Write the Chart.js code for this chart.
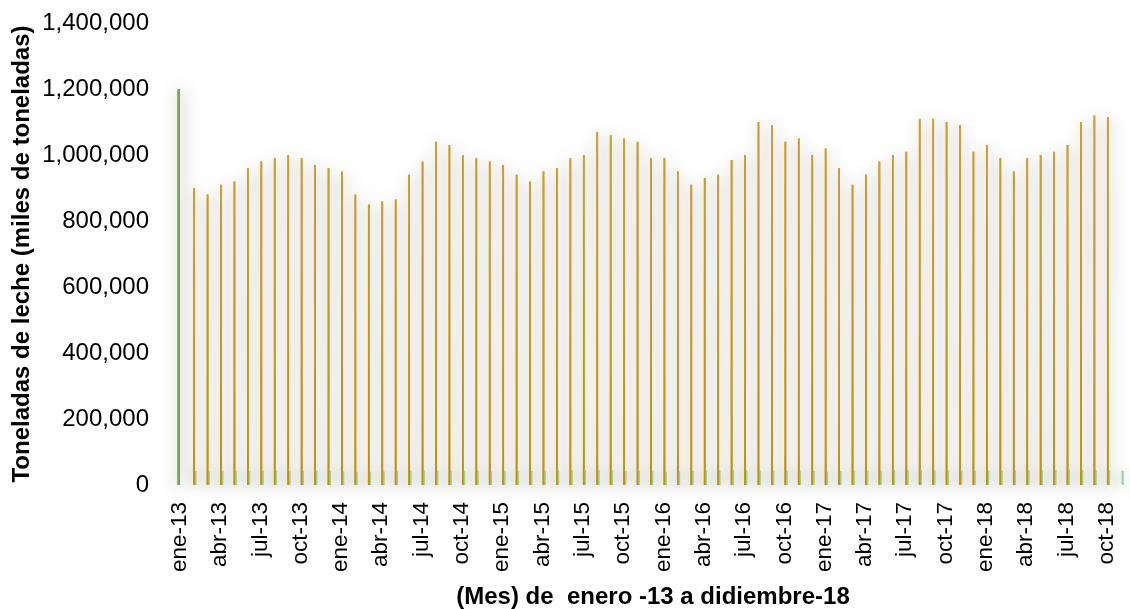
<!DOCTYPE html>
<html lang="es">
<head>
    <meta charset="UTF-8">
    <title>Producción de leche</title>
    <script src="https://cdn.jsdelivr.net/npm/chart.js"></script>
    <style>
        body { margin: 0; background: #ffffff; overflow: hidden; }
        .contenedor { width: 1130px; height: 609px; }
    </style>
</head>
<body>
    <div class="contenedor">
        <canvas id="grafica"></canvas>
    </div>
    <script>
        // meses del periodo, de ene-13 a nov-18
        var meses = ["ene", "feb", "mar", "abr", "may", "jun", "jul", "ago", "sep", "oct", "nov", "dic"];
        var anios = ["13", "14", "15", "16", "17", "18"];
        var categorias = anios.flatMap(a => meses.map(m => m + "-" + a)).slice(0, 71);

        // toneladas por mes (serie naranja)
        var produccion = [
            null, 900000, 880000, 910000, 920000, 960000, 980000, 990000, 1000000, 990000, 970000, 960000,
            950000, 880000, 850000, 860000, 865000, 940000, 980000, 1040000, 1030000, 1000000, 990000, 980000,
            970000, 940000, 920000, 950000, 960000, 990000, 1000000, 1070000, 1060000, 1050000, 1040000, 990000,
            990000, 950000, 910000, 930000, 940000, 985000, 1000000, 1100000, 1090000, 1040000, 1050000, 1000000,
            1020000, 960000, 910000, 940000, 980000, 1000000, 1010000, 1110000, 1110000, 1100000, 1090000, 1010000,
            1030000, 990000, 950000, 990000, 1000000, 1010000, 1030000, 1100000, 1120000, 1115000, null
        ];

        // serie verde claro
        var serieVerde = [
            null, 42000, 41000, 43000, 42000, 42000, 43000, 42000, 41000, 42000, 43000, 42000,
            41000, 40000, 40000, 41000, 42000, 43000, 44000, 43000, 42000, 42000, 42000, 41000,
            41000, 42000, 42000, 43000, 43000, 44000, 44000, 44000, 43000, 42000, 42000, 41000,
            40000, 41000, 42000, 43000, 43000, 45000, 44000, 43000, 43000, 42000, 43000, 42000,
            41000, 42000, 42000, 43000, 43000, 45000, 45000, 44000, 44000, 43000, 43000, 42000,
            42000, 43000, 43000, 44000, 44000, 45000, 46000, 45000, 44000, 43000, 43000
        ];

        // barra verde del primer mes
        var serieInicial = [1200000];

        var ticksY = [0, 200000, 400000, 600000, 800000, 1000000, 1200000, 1400000];

        var fuente = "'Liberation Sans', Arial, sans-serif";

        function degradadoNaranja(context) {
            var chart = context.chart;
            var area = chart.chartArea;
            if (!area) return "#cc9915";
            var g = chart.ctx.createLinearGradient(0, area.top, 0, area.bottom);
            g.addColorStop(0, "#d6a032");
            g.addColorStop(1, "#c79200");
            return g;
        }

        // sombra difusa: se pintan primero todas las sombras y luego las barras encima
        var sombra = {
            id: "sombra",
            beforeDatasetsDraw(chart) {
                var c = chart.ctx;
                c.save();
                c.shadowColor = "rgba(0, 0, 0, 0.5)";
                c.shadowBlur = 16;
                c.shadowOffsetX = 2;
                c.shadowOffsetY = 2;
                chart.getSortedVisibleDatasetMetas().forEach(function (meta) {
                    meta.data.forEach(function (barra) {
                        if (!isNaN(barra.y)) barra.draw(c);
                    });
                });
                c.restore();
            }
        };

        var ctx = document.getElementById("grafica").getContext("2d");
        var grafica = new Chart(ctx, {
            type: "bar",
            data: {
                labels: categorias,
                datasets: [
                    {
                        label: "Producción",
                        data: produccion,
                        backgroundColor: degradadoNaranja,
                        categoryPercentage: 0.4,
                        barPercentage: 1.3
                    },
                    {
                        label: "Serie verde",
                        data: serieVerde,
                        backgroundColor: "#a5d088",
                        categoryPercentage: 0.4,
                        barPercentage: 1.3
                    },
                    {
                        label: "Inicial",
                        data: serieInicial,
                        backgroundColor: "#70ad47",
                        xAxisID: "x2",
                        maxBarThickness: 2.5
                    }
                ]
            },
            options: {
                responsive: true,
                maintainAspectRatio: false,
                animation: false,
                layout: { padding: { top: 23, right: 0, bottom: 0, left: 0 } },
                plugins: {
                    legend: { display: false },
                    tooltip: { enabled: false }
                },
                scales: {
                    x: {
                        type: "category",
                        offset: true,
                        grid: { display: false, drawTicks: false },
                        border: { display: false },
                        ticks: {
                            autoSkip: false,
                            minRotation: 90,
                            maxRotation: 90,
                            padding: 17,
                            labelOffset: -3,
                            color: "#000000",
                            font: { family: fuente, size: 22.5 },
                            callback: function (value, index) {
                                return index % 3 === 0 ? categorias[index] : null;
                            }
                        },
                        title: {
                            display: true,
                            text: "(Mes) de  enero -13 a didiembre-18",
                            color: "#000000",
                            font: { family: fuente, size: 24, weight: "bold", lineHeight: 1 },
                            padding: { top: 0, bottom: 0 }
                        },
                        afterFit: function (scale) {
                            scale.height = 124;
                            scale.paddingLeft = 0;
                            scale.paddingRight = 0;
                        }
                    },
                    // eje auxiliar sin desplazamiento para la barra inicial
                    x2: {
                        type: "category",
                        labels: categorias,
                        position: "bottom",
                        offset: false,
                        grid: { display: false, drawTicks: false, offset: false },
                        border: { display: false },
                        ticks: { display: false },
                        afterFit: function (scale) {
                            scale.height = 0;
                            scale.paddingLeft = 0;
                            scale.paddingRight = 0;
                        }
                    },
                    y: {
                        min: 0,
                        max: 1400000,
                        grid: { display: false, drawTicks: false },
                        border: { display: false },
                        afterBuildTicks: function (scale) {
                            scale.ticks = ticksY.map(v => ({ value: v }));
                        },
                        ticks: {
                            padding: 27,
                            color: "#000000",
                            font: { family: fuente, size: 24 },
                            callback: function (value) {
                                return Number(value).toLocaleString("en-US");
                            }
                        },
                        title: {
                            display: true,
                            text: "Toneladas de leche (miles de toneladas)",
                            color: "#000000",
                            font: { family: fuente, size: 24, weight: "bold" },
                            padding: { top: 8, bottom: 0 }
                        },
                        afterFit: function (scale) {
                            scale.width = 176;
                            scale.paddingTop = 0;
                            scale.paddingBottom = 0;
                        }
                    }
                }
            },
            plugins: [sombra]
        });
    </script>
</body>
</html>
